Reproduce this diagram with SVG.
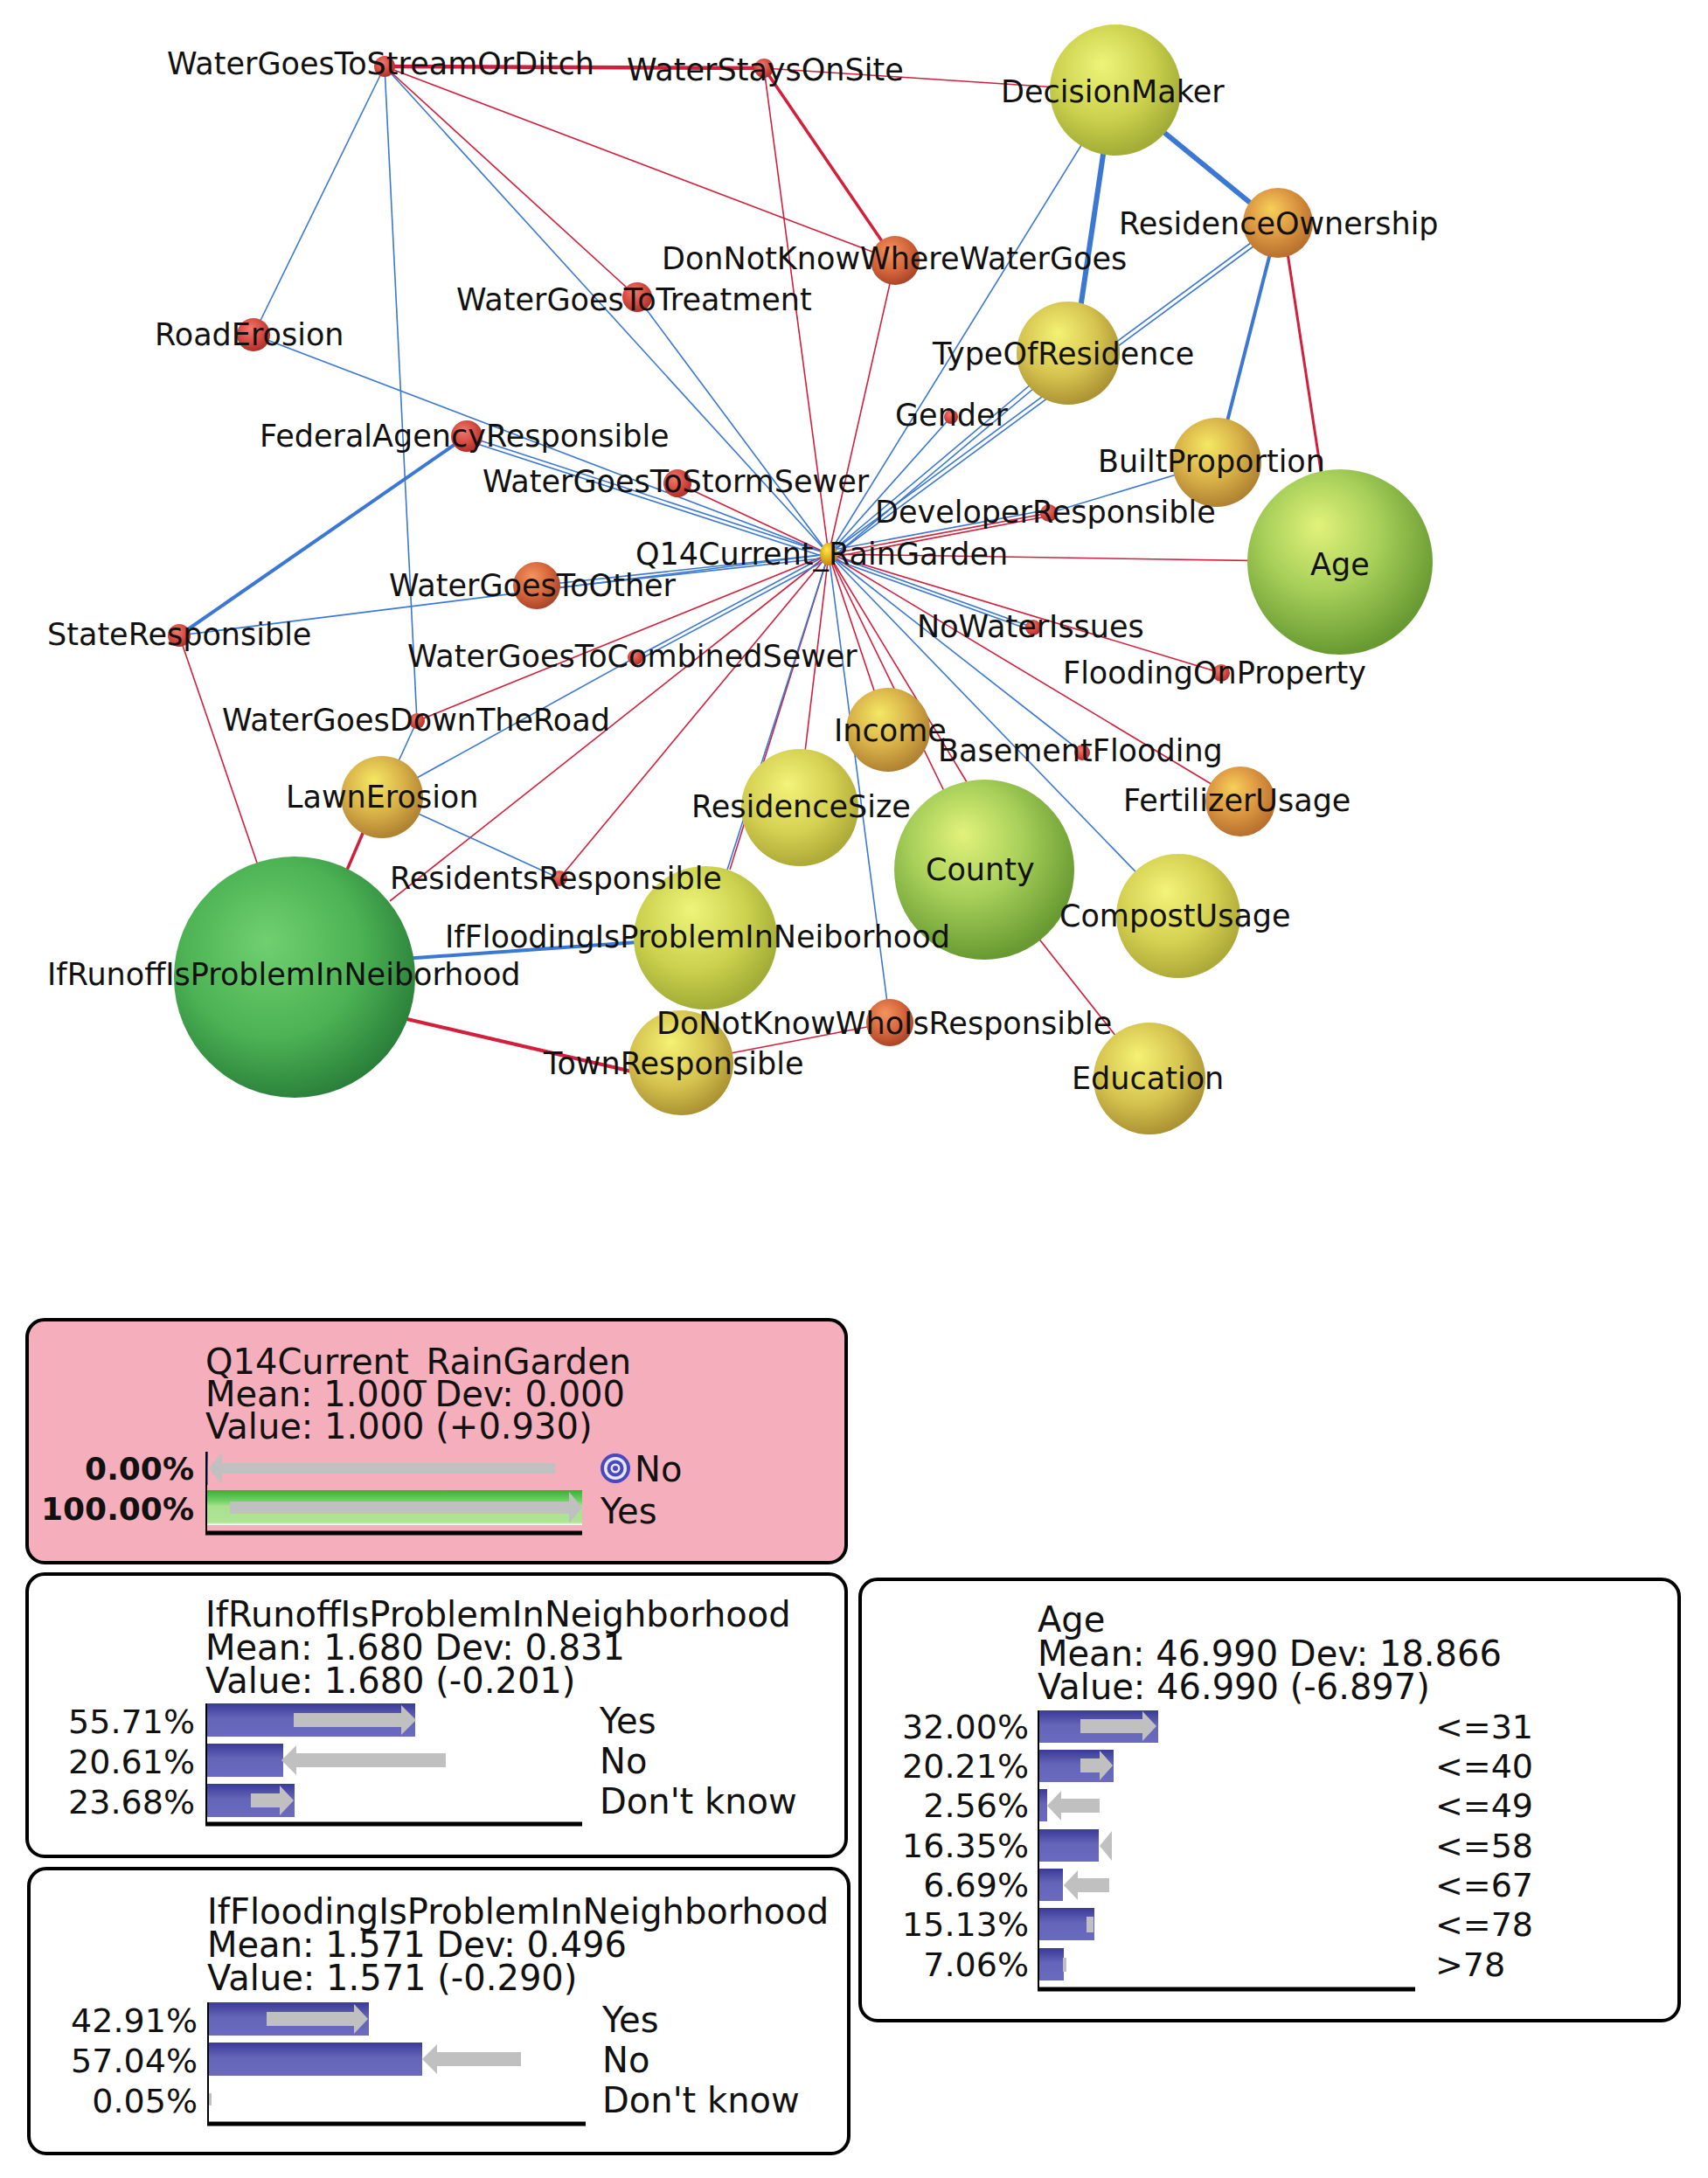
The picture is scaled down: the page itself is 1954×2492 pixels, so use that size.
<svg xmlns="http://www.w3.org/2000/svg" width="1954" height="2492" viewBox="0 0 1954 2492">
<defs>
<style>
.lbl{font-family:"DejaVu Sans","Liberation Sans",sans-serif;font-size:35px;fill:#111}
.pt{font-family:"DejaVu Sans","Liberation Sans",sans-serif;font-size:40px;fill:#111}
.st{font-family:"DejaVu Sans","Liberation Sans",sans-serif;font-size:38px;fill:#111}
.pct{font-family:"DejaVu Sans","Liberation Sans",sans-serif;font-size:38px;fill:#111;text-anchor:end}
.pctb{font-family:"DejaVu Sans","Liberation Sans",sans-serif;font-size:36px;font-weight:bold;fill:#111;text-anchor:end}
.r{stroke:#d21f3c;fill:none}
.b{stroke:#3a78d4;fill:none}
.t{stroke-width:1.6}
.panel{stroke:#000;stroke-width:4}
.arr{fill:#c0c0c0}
.axis{stroke:#000;fill:none}
</style>
<radialGradient id="gRed" cx="0.42" cy="0.38" r="0.62" fx="0.4" fy="0.32"><stop offset="0" stop-color="#f07a6e"/><stop offset="0.6" stop-color="#d64a40"/><stop offset="1" stop-color="#b0302c"/></radialGradient>
<radialGradient id="gRedOr" cx="0.42" cy="0.38" r="0.62" fx="0.4" fy="0.3"><stop offset="0" stop-color="#f49460"/><stop offset="0.6" stop-color="#d6663c"/><stop offset="1" stop-color="#aa4628"/></radialGradient>
<radialGradient id="gOrange" cx="0.42" cy="0.38" r="0.62" fx="0.4" fy="0.3"><stop offset="0" stop-color="#f6d05a"/><stop offset="0.5" stop-color="#e09c44"/><stop offset="1" stop-color="#b8702e"/></radialGradient>
<radialGradient id="gOrY" cx="0.42" cy="0.38" r="0.62" fx="0.4" fy="0.3"><stop offset="0" stop-color="#f4e864"/><stop offset="0.55" stop-color="#dab44a"/><stop offset="1" stop-color="#b08232"/></radialGradient>
<radialGradient id="gGold" cx="0.42" cy="0.38" r="0.62" fx="0.4" fy="0.3"><stop offset="0" stop-color="#f4f274"/><stop offset="0.6" stop-color="#d6c450"/><stop offset="1" stop-color="#ac9434"/></radialGradient>
<radialGradient id="gYel" cx="0.42" cy="0.38" r="0.62" fx="0.4" fy="0.3"><stop offset="0" stop-color="#f4f47a"/><stop offset="0.6" stop-color="#d4d052"/><stop offset="1" stop-color="#aeaa38"/></radialGradient>
<radialGradient id="gGY" cx="0.42" cy="0.38" r="0.62" fx="0.4" fy="0.3"><stop offset="0" stop-color="#eef47a"/><stop offset="0.6" stop-color="#ccd24e"/><stop offset="1" stop-color="#a2ac36"/></radialGradient>
<radialGradient id="gGreen" cx="0.42" cy="0.38" r="0.62" fx="0.38" fy="0.3"><stop offset="0" stop-color="#e2f27a"/><stop offset="0.5" stop-color="#a8d05a"/><stop offset="1" stop-color="#689a32"/></radialGradient>
<radialGradient id="gDeep" cx="0.42" cy="0.4" r="0.62" fx="0.38" fy="0.35"><stop offset="0" stop-color="#70d070"/><stop offset="0.6" stop-color="#4cb254"/><stop offset="1" stop-color="#2a803a"/></radialGradient>
<radialGradient id="gQ" cx="0.42" cy="0.38" r="0.62" fx="0.4" fy="0.3"><stop offset="0" stop-color="#ffe84a"/><stop offset="1" stop-color="#c48a00"/></radialGradient>
<linearGradient id="gBar" x1="0" y1="0" x2="0" y2="1"><stop offset="0" stop-color="#3a3a98"/><stop offset="0.45" stop-color="#6464b8"/><stop offset="1" stop-color="#6a6ac0"/></linearGradient>
<linearGradient id="gGrn" x1="0" y1="0" x2="0" y2="1"><stop offset="0" stop-color="#38b038"/><stop offset="0.3" stop-color="#70d064"/><stop offset="0.45" stop-color="#a8e08c"/><stop offset="0.92" stop-color="#b0e496"/><stop offset="1" stop-color="#ffffff"/></linearGradient>
</defs>
<rect width="1954" height="2492" fill="#ffffff"/>

<g id="connectors">
<line class="r" stroke-width="4.5" x1="440" y1="76" x2="874" y2="78"/>
<line class="r" stroke-width="3.5" x1="874" y1="78" x2="1024" y2="298"/>
<line class="b" stroke-width="6" x1="1266" y1="150" x2="1232" y2="380"/>
<line class="b" stroke-width="6" x1="1330" y1="150" x2="1440" y2="240"/>
<line class="b" stroke-width="4" x1="1462" y1="255" x2="1392" y2="529"/>
<line class="r" stroke-width="3" x1="1470" y1="270" x2="1512" y2="545"/>
<line class="b" stroke-width="4" x1="534" y1="499" x2="205" y2="727"/>
<line class="b" stroke-width="4" x1="420" y1="1100" x2="730" y2="1078"/>
<line class="r" stroke-width="4" x1="440" y1="1160" x2="740" y2="1230"/>
<line class="r" stroke-width="3.5" x1="395" y1="1000" x2="425" y2="930"/>
<line class="r t" x1="874" y1="78" x2="1210" y2="100"/>
<line class="r t" x1="440" y1="76" x2="1024" y2="298"/>
<line class="r t" x1="440" y1="76" x2="729" y2="340"/>
<line class="r t" x1="874" y1="78" x2="948" y2="634"/>
<line class="r t" x1="1024" y1="298" x2="948" y2="634"/>
<line class="r t" x1="775" y1="553" x2="948" y2="634"/>
<line class="r t" x1="1200" y1="587" x2="948" y2="634"/>
<line class="r t" x1="1202" y1="590" x2="950" y2="638"/>
<line class="r t" x1="948" y1="634" x2="1533" y2="643"/>
<line class="r t" x1="948" y1="634" x2="1397" y2="770"/>
<line class="r t" x1="948" y1="634" x2="1419" y2="917"/>
<line class="r t" x1="948" y1="634" x2="1080" y2="905"/>
<line class="r t" x1="948" y1="634" x2="1108" y2="898"/>
<line class="r t" x1="948" y1="634" x2="1000" y2="790"/>
<line class="r t" x1="948" y1="634" x2="921" y2="860"/>
<line class="r t" x1="948" y1="634" x2="835" y2="995"/>
<line class="r t" x1="948" y1="634" x2="640" y2="1005"/>
<line class="r t" x1="948" y1="634" x2="446" y2="1031"/>
<line class="r t" x1="948" y1="634" x2="477" y2="825"/>
<line class="r t" x1="205" y1="727" x2="295" y2="990"/>
<line class="r t" x1="779" y1="1216" x2="1018" y2="1170"/>
<line class="r t" x1="1126" y1="995" x2="1315" y2="1234"/>
<line class="b t" x1="440" y1="76" x2="290" y2="383"/>
<line class="b t" x1="440" y1="76" x2="477" y2="825"/>
<line class="b t" x1="440" y1="76" x2="948" y2="634"/>
<line class="b t" x1="477" y1="825" x2="437" y2="912"/>
<line class="b t" x1="729" y1="340" x2="948" y2="634"/>
<line class="b t" x1="290" y1="383" x2="948" y2="634"/>
<line class="b t" x1="534" y1="499" x2="948" y2="634"/>
<line class="b t" x1="534" y1="504" x2="946" y2="638"/>
<line class="b t" x1="205" y1="727" x2="948" y2="634"/>
<line class="b t" x1="614" y1="670" x2="948" y2="634"/>
<line class="b t" x1="614" y1="675" x2="948" y2="638"/>
<line class="b t" x1="1276" y1="103" x2="948" y2="634"/>
<line class="b t" x1="1462" y1="255" x2="948" y2="634"/>
<line class="b t" x1="1465" y1="259" x2="951" y2="638"/>
<line class="b t" x1="1222" y1="404" x2="948" y2="634"/>
<line class="b t" x1="1226" y1="408" x2="952" y2="638"/>
<line class="b t" x1="1088" y1="477" x2="948" y2="634"/>
<line class="b t" x1="1392" y1="529" x2="1200" y2="587"/>
<line class="b t" x1="1200" y1="583" x2="948" y2="630"/>
<line class="b t" x1="948" y1="634" x2="1182" y2="718"/>
<line class="b t" x1="948" y1="638" x2="1182" y2="722"/>
<line class="b t" x1="948" y1="634" x2="1238" y2="861"/>
<line class="b t" x1="948" y1="634" x2="1348" y2="1048"/>
<line class="b t" x1="948" y1="634" x2="1018" y2="1170"/>
<line class="b t" x1="948" y1="634" x2="807" y2="1073"/>
<line class="b t" x1="948" y1="634" x2="727" y2="752"/>
<line class="b t" x1="950" y1="638" x2="729" y2="756"/>
<line class="b t" x1="727" y1="752" x2="437" y2="912"/>
<line class="b t" x1="437" y1="912" x2="640" y2="1005"/>
</g>

<g id="node-WaterGoesToStreamOrDitch"><circle cx="440" cy="76" r="12" fill="url(#gRed)"/><text class="lbl" x="191" y="85">WaterGoesToStreamOrDitch</text></g>
<g id="node-WaterStaysOnSite"><circle cx="874" cy="78" r="11" fill="url(#gRed)"/><text class="lbl" x="717" y="92">WaterStaysOnSite</text></g>
<g id="node-DecisionMaker"><circle cx="1276" cy="103" r="75" fill="url(#gGY)"/><text class="lbl" x="1145" y="117">DecisionMaker</text></g>
<g id="node-ResidenceOwnership"><circle cx="1462" cy="255" r="40" fill="url(#gOrange)"/><text class="lbl" x="1280" y="268">ResidenceOwnership</text></g>
<g id="node-TypeOfResidence"><circle cx="1222" cy="404" r="59" fill="url(#gGold)"/><text class="lbl" x="1067" y="417">TypeOfResidence</text></g>
<g id="node-DonNotKnowWhereWaterGoes"><circle cx="1024" cy="298" r="28" fill="url(#gRedOr)"/><text class="lbl" x="757" y="308">DonNotKnowWhereWaterGoes</text></g>
<g id="node-WaterGoesToTreatment"><circle cx="729" cy="340" r="17" fill="url(#gRed)"/><text class="lbl" x="522" y="355">WaterGoesToTreatment</text></g>
<g id="node-RoadErosion"><circle cx="290" cy="383" r="19" fill="url(#gRed)"/><text class="lbl" x="177" y="395">RoadErosion</text></g>
<g id="node-Gender"><circle cx="1088" cy="477" r="8" fill="url(#gRed)"/><text class="lbl" x="1024" y="487">Gender</text></g>
<g id="node-FederalAgencyResponsible"><circle cx="534" cy="499" r="18" fill="url(#gRed)"/><text class="lbl" x="297" y="511">FederalAgencyResponsible</text></g>
<g id="node-BuiltProportion"><circle cx="1392" cy="529" r="51" fill="url(#gOrY)"/><text class="lbl" x="1256" y="540">BuiltProportion</text></g>
<g id="node-WaterGoesToStormSewer"><circle cx="775" cy="553" r="16" fill="url(#gRed)"/><text class="lbl" x="552" y="563">WaterGoesToStormSewer</text></g>
<g id="node-DeveloperResponsible"><circle cx="1200" cy="587" r="10" fill="url(#gRed)"/><text class="lbl" x="1001" y="598">DeveloperResponsible</text></g>
<g id="node-Age"><circle cx="1533" cy="643" r="106" fill="url(#gGreen)"/><text class="lbl" x="1499" y="658">Age</text></g>
<g id="node-WaterGoesToOther"><circle cx="614" cy="670" r="27" fill="url(#gRedOr)"/><text class="lbl" x="445" y="682">WaterGoesToOther</text></g>
<g id="node-StateResponsible"><circle cx="205" cy="727" r="13" fill="url(#gRed)"/><text class="lbl" x="54" y="738">StateResponsible</text></g>
<g id="node-NoWaterIssues"><circle cx="1182" cy="718" r="9" fill="url(#gRed)"/><text class="lbl" x="1049" y="729">NoWaterIssues</text></g>
<g id="node-WaterGoesToCombinedSewer"><circle cx="727" cy="752" r="9" fill="url(#gRed)"/><text class="lbl" x="466" y="763">WaterGoesToCombinedSewer</text></g>
<g id="node-FloodingOnProperty"><circle cx="1397" cy="770" r="10" fill="url(#gRed)"/><text class="lbl" x="1216" y="782">FloodingOnProperty</text></g>
<g id="node-WaterGoesDownTheRoad"><circle cx="477" cy="825" r="9" fill="url(#gRed)"/><text class="lbl" x="254" y="836">WaterGoesDownTheRoad</text></g>
<g id="node-Income"><circle cx="1016" cy="835" r="48" fill="url(#gOrY)"/><text class="lbl" x="954" y="848">Income</text></g>
<g id="node-BasementFlooding"><circle cx="1238" cy="861" r="9" fill="url(#gRed)"/><text class="lbl" x="1073" y="871">BasementFlooding</text></g>
<g id="node-LawnErosion"><circle cx="437" cy="912" r="47" fill="url(#gOrY)"/><text class="lbl" x="327" y="924">LawnErosion</text></g>
<g id="node-ResidenceSize"><circle cx="915" cy="924" r="67" fill="url(#gYel)"/><text class="lbl" x="791" y="935">ResidenceSize</text></g>
<g id="node-FertilizerUsage"><circle cx="1419" cy="917" r="40" fill="url(#gOrange)"/><text class="lbl" x="1285" y="928">FertilizerUsage</text></g>
<g id="node-County"><circle cx="1126" cy="995" r="103" fill="url(#gGreen)"/><text class="lbl" x="1059" y="1007">County</text></g>
<g id="node-CompostUsage"><circle cx="1348" cy="1048" r="71" fill="url(#gYel)"/><text class="lbl" x="1212" y="1060">CompostUsage</text></g>
<g id="node-IfRunoffIsProblemInNeiborhood"><circle cx="337" cy="1118" r="138" fill="url(#gDeep)"/><text class="lbl" x="54" y="1127">IfRunoffIsProblemInNeiborhood</text></g>
<g id="node-IfFloodingIsProblemInNeiborhood"><circle cx="807" cy="1073" r="82" fill="url(#gGY)"/><text class="lbl" x="509" y="1084">IfFloodingIsProblemInNeiborhood</text></g>
<g id="node-ResidentsResponsible"><circle cx="640" cy="1005" r="9" fill="url(#gRed)"/><text class="lbl" x="446" y="1017">ResidentsResponsible</text></g>
<g id="node-TownResponsible"><circle cx="779" cy="1216" r="60" fill="url(#gGold)"/><text class="lbl" x="622" y="1229">TownResponsible</text></g>
<g id="node-DoNotKnowWhoIsResponsible"><circle cx="1018" cy="1170" r="27" fill="url(#gRedOr)"/><text class="lbl" x="751" y="1183">DoNotKnowWhoIsResponsible</text></g>
<g id="node-Education"><circle cx="1315" cy="1234" r="64" fill="url(#gGold)"/><text class="lbl" x="1226" y="1246">Education</text></g>
<g id="node-Q14Current_RainGarden"><ellipse cx="948" cy="634" rx="10" ry="13" fill="url(#gQ)"/><text class="lbl" x="727" y="646">Q14Current_RainGarden</text></g>

<g id="panel-Q14Current_RainGarden">
<rect class="panel" x="31" y="1510" width="937" height="278" rx="20" fill="#f5aebb"/>
<text class="pt" x="235" y="1572">Q14Current_RainGarden</text>
<text class="pt" x="235" y="1609">Mean: 1.000 Dev: 0.000</text>
<text class="pt" x="235" y="1646">Value: 1.000 (+0.930)</text>
<rect x="235" y="1661" width="3" height="38" fill="url(#gBar)"/>
<polygon class="arr" points="635,1674 254,1674 254,1662 239,1680 254,1698 254,1686 635,1686"/>
<rect x="235" y="1705" width="431" height="40" fill="url(#gGrn)"/>
<polygon class="arr" points="263,1718 651,1718 651,1707 666,1725 651,1743 651,1732 263,1732"/>
<line class="axis" stroke-width="2" x1="236" y1="1661" x2="236" y2="1756"/>
<line class="axis" stroke-width="5" x1="235" y1="1754" x2="666" y2="1754"/>
<text class="pctb" x="222" y="1693">0.00%</text>
<text class="pctb" x="222" y="1739">100.00%</text>
<circle cx="704" cy="1680" r="17" fill="#4848c0"/>
<circle cx="704" cy="1680" r="13" fill="#e8e8f8"/>
<circle cx="704" cy="1680" r="9.5" fill="#4848c0"/>
<circle cx="704" cy="1680" r="5.5" fill="#e8e8f8"/>
<circle cx="704" cy="1680" r="3" fill="#4848c0"/>
<text class="pt" x="726" y="1695" font-size="32">No</text>
<text class="pt" x="687" y="1743" font-size="32">Yes</text>
</g>

<g id="panel-IfRunoffIsProblemInNeighborhood">
<rect class="panel" x="31" y="1801" width="937" height="323" rx="20" fill="#ffffff"/>
<text class="pt" x="235" y="1861">IfRunoffIsProblemInNeighborhood</text>
<text class="pt" x="235" y="1899">Mean: 1.680 Dev: 0.831</text>
<text class="pt" x="235" y="1937">Value: 1.680 (-0.201)</text>
<rect x="235" y="1949" width="240" height="38" fill="url(#gBar)"/>
<rect x="235" y="1995" width="89" height="38" fill="url(#gBar)"/>
<rect x="235" y="2041" width="102" height="38" fill="url(#gBar)"/>
<polygon class="arr" points="336,1960 459,1960 459,1951 476,1968 459,1985 459,1976 336,1976"/>
<polygon class="arr" points="510,2006 339,2006 339,1997 322,2014 339,2031 339,2022 510,2022"/>
<polygon class="arr" points="287,2052 320,2052 320,2043 336,2060 320,2077 320,2068 287,2068"/>
<line class="axis" stroke-width="2" x1="236" y1="1949" x2="236" y2="2089"/>
<line class="axis" stroke-width="5" x1="235" y1="2087" x2="666" y2="2087"/>
<text class="pct" x="223" y="1983">55.71%</text>
<text class="pct" x="223" y="2029">20.61%</text>
<text class="pct" x="223" y="2075">23.68%</text>
<text class="pt" x="686" y="1983">Yes</text>
<text class="pt" x="686" y="2029">No</text>
<text class="pt" x="686" y="2075">Don't know</text>
</g>

<g id="panel-IfFloodingIsProblemInNeighborhood">
<rect class="panel" x="33" y="2138" width="938" height="326" rx="20" fill="#ffffff"/>
<text class="pt" x="237" y="2201">IfFloodingIsProblemInNeighborhood</text>
<text class="pt" x="237" y="2239">Mean: 1.571 Dev: 0.496</text>
<text class="pt" x="237" y="2277">Value: 1.571 (-0.290)</text>
<rect x="237" y="2291" width="185" height="38" fill="url(#gBar)"/>
<rect x="237" y="2337" width="246" height="38" fill="url(#gBar)"/>
<rect x="237" y="2383" width="2" height="38" fill="url(#gBar)"/>
<polygon class="arr" points="305,2302 405,2302 405,2293 421,2310 405,2327 405,2318 305,2318"/>
<polygon class="arr" points="596,2348 500,2348 500,2339 483,2356 500,2373 500,2364 596,2364"/>
<rect x="239" y="2395" width="3" height="14" fill="#c0c0c0"/>
<line class="axis" stroke-width="2" x1="238" y1="2291" x2="238" y2="2432"/>
<line class="axis" stroke-width="5" x1="237" y1="2430" x2="670" y2="2430"/>
<text class="pct" x="226" y="2325">42.91%</text>
<text class="pct" x="226" y="2371">57.04%</text>
<text class="pct" x="226" y="2417">0.05%</text>
<text class="pt" x="689" y="2325">Yes</text>
<text class="pt" x="689" y="2371">No</text>
<text class="pt" x="689" y="2417">Don't know</text>
</g>

<g id="panel-Age">
<rect class="panel" x="984" y="1807" width="937" height="505" rx="20" fill="#ffffff"/>
<text class="pt" x="1187" y="1867">Age</text>
<text class="pt" x="1187" y="1906">Mean: 46.990 Dev: 18.866</text>
<text class="pt" x="1187" y="1944">Value: 46.990 (-6.897)</text>
<rect x="1187" y="1957" width="138" height="37" fill="url(#gBar)"/>
<rect x="1187" y="2002" width="87" height="37" fill="url(#gBar)"/>
<rect x="1187" y="2047" width="11" height="37" fill="url(#gBar)"/>
<rect x="1187" y="2093" width="70" height="37" fill="url(#gBar)"/>
<rect x="1187" y="2138" width="29" height="37" fill="url(#gBar)"/>
<rect x="1187" y="2183" width="65" height="37" fill="url(#gBar)"/>
<rect x="1187" y="2229" width="30" height="37" fill="url(#gBar)"/>
<polygon class="arr" points="1236,1967 1307,1967 1307,1958 1323,1975 1307,1992 1307,1983 1236,1983"/>
<polygon class="arr" points="1236,2012 1258,2012 1258,2003 1273,2020 1258,2037 1258,2028 1236,2028"/>
<polygon class="arr" points="1258,2058 1214,2058 1214,2049 1198,2066 1214,2083 1214,2074 1258,2074"/>
<polygon class="arr" points="1272,2095 1258,2112 1272,2129"/>
<polygon class="arr" points="1269,2149 1233,2149 1233,2140 1217,2157 1233,2174 1233,2165 1269,2165"/>
<rect x="1243" y="2193" width="8" height="18" fill="#c0c0c0"/>
<rect x="1216" y="2240" width="4" height="16" fill="#c0c0c0"/>
<line class="axis" stroke-width="2" x1="1188" y1="1957" x2="1188" y2="2278"/>
<line class="axis" stroke-width="5" x1="1187" y1="2276" x2="1619" y2="2276"/>
<text class="pct" x="1177" y="1989">32.00%</text>
<text class="pct" x="1177" y="2034">20.21%</text>
<text class="pct" x="1177" y="2079">2.56%</text>
<text class="pct" x="1177" y="2125">16.35%</text>
<text class="pct" x="1177" y="2170">6.69%</text>
<text class="pct" x="1177" y="2215">15.13%</text>
<text class="pct" x="1177" y="2261">7.06%</text>
<text class="st" x="1642" y="1989">&lt;=31</text>
<text class="st" x="1642" y="2034">&lt;=40</text>
<text class="st" x="1642" y="2079">&lt;=49</text>
<text class="st" x="1642" y="2125">&lt;=58</text>
<text class="st" x="1642" y="2170">&lt;=67</text>
<text class="st" x="1642" y="2215">&lt;=78</text>
<text class="st" x="1642" y="2261">&gt;78</text>
</g>
</svg>
